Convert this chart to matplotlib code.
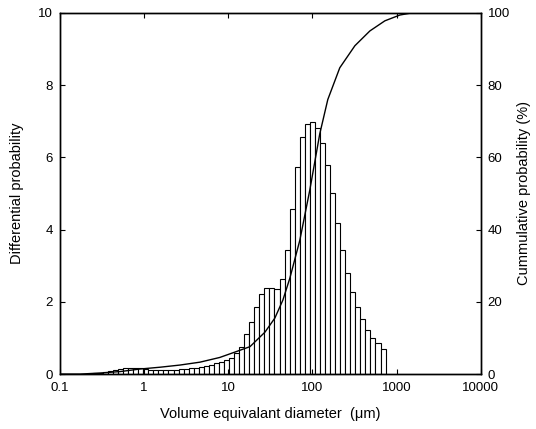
import numpy as np
import matplotlib
matplotlib.use("Agg")
import matplotlib.pyplot as plt
from matplotlib import ticker

plt.rcParams["font.family"] = ["Liberation Sans", "DejaVu Sans"]

# ── data ──────────────────────────────────────────────────────────────────────
# histogram bins: geometric, first lower edge and log10 step
bin_first_edge_um = 0.213
bin_log_step = 0.06

# differential probability (% per bin), left to right
diff_prob = [
    0.01, 0.02, 0.04, 0.06, 0.09, 0.12, 0.15, 0.16, 0.17, 0.17,
    0.16, 0.14, 0.12, 0.11, 0.10, 0.10, 0.11, 0.12, 0.13, 0.14,
    0.16, 0.18, 0.20, 0.23, 0.26, 0.30, 0.34, 0.39, 0.45, 0.57,
    0.76, 1.10,
    1.45, 1.86, 2.21, 2.37, 2.37, 2.35, 2.63, 3.43, 4.58, 5.72,
    6.55, 6.93, 6.98, 6.80, 6.41, 5.78, 5.00, 4.19, 3.43, 2.81,
    2.28, 1.85, 1.52, 1.22, 1.01, 0.85, 0.70,
]

# cumulative curve (diameter um, cumulative %)
cum_d = [0.10, 0.173, 0.30, 0.52, 0.89, 1.54, 2.66, 4.6, 7.9, 12.0, 18.1,
         27.2, 35.7, 44.5, 53.9, 70.8, 93, 122, 152, 211, 319, 481,
         725, 1092, 1517, 3000]
cum_p = [0.0, 0.0, 0.3, 0.7, 1.4, 1.9, 2.5, 3.3, 4.6, 6.1, 7.6,
         11.6, 15.5, 20.5, 26.6, 37.1, 51.0, 66.5, 76.0, 84.8, 90.9, 95.0,
         97.8, 99.4, 100.0, 100.0]

x_ticks = [0.1, 1, 10, 100, 1000, 10000]
x_tick_labels = ["0.1", "1", "10", "100", "1000", "10000"]

# ── plotting ──────────────────────────────────────────────────────────────────
edges = bin_first_edge_um * 10 ** (bin_log_step * np.arange(len(diff_prob) + 1))

fig = plt.figure(figsize=(5.36, 4.29), dpi=100)
ax = fig.add_axes([0.112, 0.128, 0.785, 0.842])

ax.bar(edges[:-1], diff_prob, width=np.diff(edges), align="edge",
       facecolor="white", edgecolor="black", linewidth=0.8)

ax.set_xscale("log")
ax.set_xlim(0.1, 10000)
ax.set_ylim(0, 10)
ax.xaxis.set_major_locator(ticker.FixedLocator(x_ticks))
ax.xaxis.set_major_formatter(ticker.FixedFormatter(x_tick_labels))
ax.xaxis.set_minor_locator(ticker.NullLocator())
ax.set_yticks([0, 2, 4, 6, 8, 10])
ax.tick_params(axis="x", which="both", direction="in", top=True, length=3.5,
               labelsize=9.5, pad=6)
ax.tick_params(axis="y", direction="in", length=3.5, labelsize=9.5, pad=5)

ax.set_xlabel("Volume equivalant diameter  (\u03bcm)", fontsize=10.5, labelpad=9)
ax.set_ylabel("Differential probability", fontsize=10.5, labelpad=10)

ax2 = ax.twinx()
ax2.plot(cum_d, cum_p, color="black", lw=1.0)
ax2.set_ylim(0, 100)
ax2.set_yticks([0, 20, 40, 60, 80, 100])
ax2.tick_params(axis="y", direction="in", length=3.5, labelsize=9.5, pad=5)
ax2.set_ylabel("Cummulative probability (%)", fontsize=10.5, labelpad=5)

for a in (ax, ax2):
    for s in a.spines.values():
        s.set_linewidth(1.0)

fig.savefig("out.png", dpi=100)
